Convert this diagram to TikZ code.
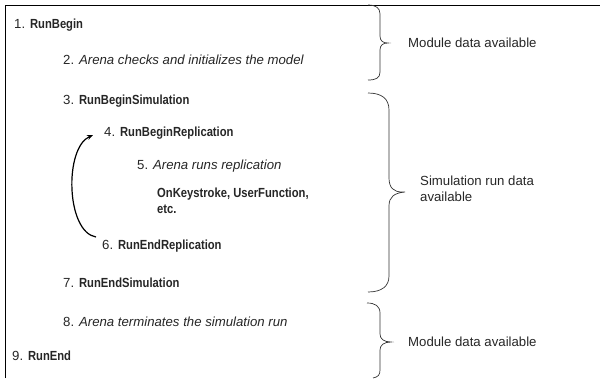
\documentclass[tikz,border=0pt]{standalone}
\usepackage{fontspec}
\usepackage{graphicx}
\setmainfont{Liberation Sans}
\usetikzlibrary{arrows.meta}
\newcommand\bnarrow[1]{\scalebox{0.85}[1]{\textbf{#1}}}
\begin{document}
\begin{tikzpicture}[x=1pt,y=-1pt,
  lbl/.style={anchor=west,inner sep=0pt,font=\fontsize{13.2}{16.5}\selectfont,text=black!85},
  brace/.style={draw=black!80,line width=0.7pt},
  loop/.style={draw=black,line width=1.2pt,-{Stealth[length=6pt,width=5pt]}}]
\useasboundingbox (0,0) rectangle (600,378);
\draw[line width=0.8pt] (5,378) -- (5,5) -- (600,5);
\node[lbl] (n1) at (14,25) {1. \bnarrow{RunBegin}};
\node[lbl] (n2) at (63,60) {2. \textit{Arena checks and initializes the model}};
\node[lbl] (n3) at (63,101) {3. \bnarrow{RunBeginSimulation}};
\node[lbl] (n4) at (104,133) {4. \bnarrow{RunBeginReplication}};
\node[lbl] (n5) at (137,166) {5. \textit{Arena runs replication}};
\node[lbl,align=left] (n5b) at (157,201) {\bnarrow{OnKeystroke, UserFunction,}\\\bnarrow{etc.}};
\node[lbl] (n6) at (102,246) {6. \bnarrow{RunEndReplication}};
\node[lbl] (n7) at (63,283) {7. \bnarrow{RunEndSimulation}};
\node[lbl] (n8) at (63,322) {8. \textit{Arena terminates the simulation run}};
\node[lbl] (n9) at (12,356) {9. \bnarrow{RunEnd}};
\node[lbl] (m1) at (408,43) {Module data available};
\node[lbl,align=left] (s1) at (420,189) {Simulation run data\\available};
\node[lbl] (m2) at (408,342) {Module data available};
% loop arrow
\coordinate (a0) at ([xshift=-6pt,yshift=9pt]n6.west);
\coordinate (a1) at ([xshift=-11pt,yshift=-2pt]n4.west);
\draw[loop] (a0) .. controls (66,232) and (64,148) .. (a1);
% braces
\draw[brace] (368,5) .. controls (376,5) and (380,8) .. (380,14) -- (380,36)
  .. controls (380,41) and (383,43) .. (388,43)
  .. controls (383,43) and (380,45) .. (380,50) -- (380,72)
  .. controls (380,78) and (376,80) .. (368,80);
\draw[brace] (368,93) .. controls (382,93) and (389,99) .. (389,110) -- (389,178)
  .. controls (389,188) and (394,192) .. (402,192) -- (405,192)
  .. controls (394,193) and (389,197) .. (389,206) -- (389,276)
  .. controls (389,286) and (382,292) .. (368,292);
\draw[brace] (367,303) .. controls (375,303) and (380,306) .. (380,313) -- (380,334)
  .. controls (380,339) and (384,342) .. (391,342)
  .. controls (384,342) and (380,345) .. (380,350) -- (380,370)
  .. controls (380,375) and (378,377) .. (373,378);
\end{tikzpicture}
\end{document}
